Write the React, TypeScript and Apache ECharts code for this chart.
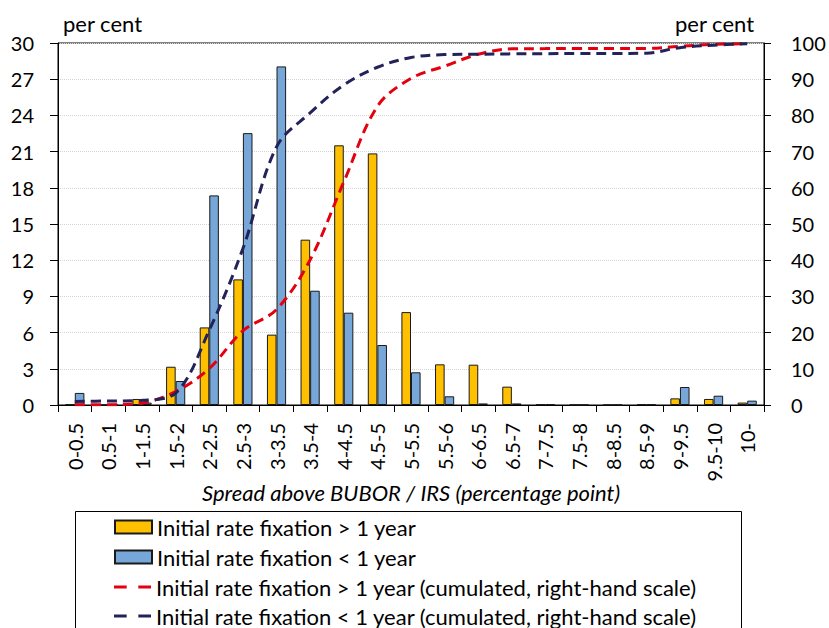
import React, { useEffect, useRef } from "react";
import * as echarts from "echarts";

const categories = [
  "0-0.5", "0.5-1", "1-1.5", "1.5-2", "2-2.5", "2.5-3", "3-3.5", "3.5-4", "4-4.5", "4.5-5",
  "5-5.5", "5.5-6", "6-6.5", "6.5-7", "7-7.5", "7.5-8", "8-8.5", "8.5-9", "9-9.5", "9.5-10", "10-",
];
const fixOver1y = [0.05, 0.02, 0.5, 3.17, 6.43, 10.41, 5.83, 13.7, 21.52, 20.85, 7.7, 3.37, 3.34, 1.52, 0.05, 0.02, 0.02, 0.05, 0.55, 0.5, 0.2];
const fixUnder1y = [1.0, 0.1, 0.2, 1.99, 17.37, 22.53, 28.06, 9.47, 7.65, 4.97, 2.71, 0.72, 0.13, 0.13, 0.05, 0.02, 0.02, 0.05, 1.49, 0.77, 0.36];
const cumOver1y = [0.05, 0.07, 0.57, 3.7, 10.1, 20.5, 26.4, 40.1, 61.6, 82.5, 90.2, 93.6, 96.9, 98.4, 98.45, 98.5, 98.5, 98.5, 99.1, 99.6, 99.8];
const cumUnder1y = [1.0, 1.1, 1.3, 3.3, 20.7, 43.2, 71.3, 80.7, 88.4, 93.3, 96.0, 96.8, 96.9, 97.0, 97.05, 97.1, 97.1, 97.2, 98.7, 99.4, 99.8];

const seriesNames = [
  "Initial rate fixation > 1 year",
  "Initial rate fixation < 1 year",
  "Initial rate fixation > 1 year (cumulated, right-hand scale)",
  "Initial rate fixation < 1 year (cumulated, right-hand scale)",
];
const axisUnit = "per cent";
const xAxisTitle = "Spread above BUBOR / IRS (percentage point)";

const FONT = "Lato";
const ORANGE = "#FFC000";
const BLUE = "#77A6D8";
const RED = "#E3000F";
const NAVY = "#23235A";
const DASH_ICON = "path://M0,0h12v3h-12z M23,0h12v3h-12z";

export default function App() {
  const ref = useRef<HTMLDivElement>(null);
  useEffect(() => {
    document.body.style.margin = "0";
    const chart = echarts.init(ref.current!, null, { renderer: "svg" });
    const num = { fontFamily: FONT, fontSize: 20, color: "#000" };
    const txt = { fontFamily: FONT, fontSize: 22, color: "#000" };
    const legendTops = [516, 546, 576, 605];
    const legendIcons = ["rect", "rect", DASH_ICON, DASH_ICON];
    const legendColors = [null, null, RED, NAVY];
    const legends = seriesNames.map((name, i) => ({
      orient: "vertical",
      left: 114,
      top: legendTops[i],
      itemWidth: 37,
      itemHeight: 13,
      itemGap: 0,
      padding: 0,
      symbolKeepAspect: true,
      textStyle: { ...txt, lineHeight: 22, padding: [0, 0, 0, 0] },
      data: [
        legendColors[i]
          ? { name, icon: legendIcons[i], itemStyle: { color: legendColors[i], borderWidth: 0 } }
          : { name, icon: legendIcons[i] },
      ],
    }));
    chart.setOption({
      animation: false,
      textStyle: { fontFamily: FONT },
      grid: { left: 58, right: 65, top: 43, bottom: 223, show: true, borderColor: "#000", borderWidth: 1 },
      legend: legends,
      xAxis: {
        type: "category",
        data: categories,
        boundaryGap: true,
        axisLine: { lineStyle: { color: "#000", width: 1 } },
        axisTick: { show: true, length: 7, alignWithLabel: false, lineStyle: { color: "#000" } },
        axisLabel: { ...num, rotate: 90, margin: 18, interval: 0 },
        name: xAxisTitle,
        nameLocation: "middle",
        nameGap: 76,
        nameMoveOverlap: false,
        nameTextStyle: { ...txt, fontStyle: "italic" },
      },
      yAxis: [
        {
          type: "value",
          min: 0,
          max: 30,
          interval: 3,
          position: "left",
          axisLine: { show: true, lineStyle: { color: "#000" } },
          axisTick: { show: true, length: 8, lineStyle: { color: "#000" } },
          axisLabel: { ...num, margin: 24 },
          splitLine: { show: true, lineStyle: { color: "#D4D4D4", type: "dotted", width: 1 } },
        },
        {
          type: "value",
          min: 0,
          max: 100,
          interval: 10,
          position: "right",
          axisLine: { show: true, lineStyle: { color: "#000" } },
          axisTick: { show: true, length: 7, lineStyle: { color: "#000" } },
          axisLabel: { ...num, margin: 27 },
          splitLine: { show: false },
        },
      ],
      series: [
        {
          name: seriesNames[0],
          type: "bar",
          data: fixOver1y,
          barGap: "0%",
          barCategoryGap: "43%",
          itemStyle: { color: ORANGE, borderColor: "#1a1a1a", borderWidth: 1 },
        },
        {
          name: seriesNames[1],
          type: "bar",
          data: fixUnder1y,
          barGap: "0%",
          barCategoryGap: "43%",
          itemStyle: { color: BLUE, borderColor: "#1a1a1a", borderWidth: 1 },
        },
        {
          name: seriesNames[2],
          type: "line",
          yAxisIndex: 1,
          data: cumOver1y,
          smooth: 0.35,
          symbol: "none",
          lineStyle: { color: RED, width: 3, type: [10, 6] },
          itemStyle: { color: RED },
        },
        {
          name: seriesNames[3],
          type: "line",
          yAxisIndex: 1,
          data: cumUnder1y,
          smooth: 0.35,
          symbol: "none",
          lineStyle: { color: NAVY, width: 3, type: [10, 6] },
          itemStyle: { color: NAVY },
        },
      ],
      graphic: [
        {
          type: "text",
          left: 63,
          top: 12,
          style: { text: axisUnit, font: `22px ${FONT}`, fill: "#000" },
        },
        {
          type: "text",
          left: 675,
          top: 12,
          style: { text: axisUnit, font: `22px ${FONT}`, fill: "#000" },
        },
        {
          type: "rect",
          shape: { x: 75.5, y: 511.5, width: 666, height: 140 },
          style: { fill: "none", stroke: "#000", lineWidth: 1 },
          silent: true,
        },
      ],
    });
    return () => chart.dispose();
  }, []);
  return <div ref={ref} style={{ width: 829, height: 628 }} />;
}
